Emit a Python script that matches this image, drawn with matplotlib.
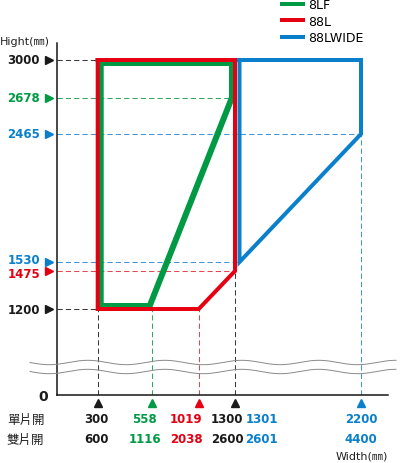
import numpy as np
import matplotlib
matplotlib.use('Agg')
import matplotlib.pyplot as plt
import matplotlib.transforms as mtransforms
from matplotlib.lines import Line2D
from matplotlib.patches import Polygon

# ---------------- data ----------------
series_names = ['8LF', '88L', '88LWIDE']
lf8_width = [300, 1300, 1300, 558, 300]
lf8_height = [3000, 3000, 2678, 1200, 1200]
l88_width = [300, 1300, 1300, 1019, 300]
l88_height = [3000, 3000, 1475, 1200, 1200]
wide_width = [1301, 2200, 2200, 1301]
wide_height = [3000, 3000, 2465, 1530]

height_ticks = [3000, 2678, 2465, 1530, 1475, 1200]
height_tick_series = ['k', '8LF', '88LWIDE', '88LWIDE', '88L', 'k']
height_guide_ends = [300, 1300, 2200, 1301, 1300, 300]

width_single = [300, 558, 1019, 1300, 1301, 2200]
width_double = [600, 1116, 2038, 2600, 2601, 4400]
width_tick_series = ['k', '8LF', '88L', 'k', '88LWIDE', '88LWIDE']
width_guides = [300, 558, 1019, 1300, 2200]
width_guide_tops = [1200, 1200, 1200, 1475, 2465]
width_guide_series = ['k', '8LF', '88L', 'k', '88LWIDE']
row_labels = ['單片開', '雙片開']

# ---------------- style / layout ----------------
W, H = 400, 464
COL = {'8LF': '#009a44', '88L': '#e60012', '88LWIDE': '#0a80cc', 'k': '#1a1a1a'}
DASH = {'8LF': '#33a866', '88L': '#e5474f', '88LWIDE': '#3f96d6', 'k': '#3a3a3a'}

# schematic (non-uniform) axis scales: value knots -> pixel positions
X_KNOTS = [0, 300, 558, 1019, 1300, 1301, 2200, 2396]
X_PIX = [57, 97.7, 151.7, 198.7, 235, 239.5, 361, 388]
Y_KNOTS = [0, 1200, 1475, 1530, 2465, 2678, 3000, 3144]
Y_PIX = [H - p for p in [396, 310, 272, 263, 135, 99, 61, 44]]

def fx(v):
    return np.interp(v, X_KNOTS, X_PIX)
def fx_inv(p):
    return np.interp(p, X_PIX, X_KNOTS)
def fy(v):
    return np.interp(v, Y_KNOTS, Y_PIX)
def fy_inv(p):
    return np.interp(p, Y_PIX, Y_KNOTS)

PX = 0.72  # points per pixel at dpi 100
NUM_FONT = dict(family='DejaVu Sans', fontweight='bold', fontsize=8.5)

fig = plt.figure(figsize=(W / 100, H / 100), dpi=100)
ax = fig.add_axes([57 / W, (H - 396) / H, (388 - 57) / W, (396 - 44) / H])
ax.set_xscale('function', functions=(fx, fx_inv))
ax.set_yscale('function', functions=(fy, fy_inv))
ax.set_xlim(0, 2396)
ax.set_ylim(0, 3144)
ax.set_xticks([])
ax.set_yticks([])
for s in ['top', 'right']:
    ax.spines[s].set_visible(False)
for s in ['left', 'bottom']:
    ax.spines[s].set_linewidth(1.5 * PX)
    ax.spines[s].set_color('#111111')

# ---------------- guides ----------------
for h, xe, key in zip(height_ticks, height_guide_ends, height_tick_series):
    ax.plot([0, xe], [h, h], color=DASH[key], lw=0.75, dashes=(5, 3), zorder=1)
for w, yt, key in zip(width_guides, width_guide_tops, width_guide_series):
    ax.plot([w, w], [0, yt], color=DASH[key], lw=0.75, dashes=(5, 3), zorder=1)

# ---------------- outlines ----------------
green_clip = Polygon(list(zip(lf8_width, lf8_height)), closed=True,
                     transform=ax.transData, fill=False, visible=False)
ax.add_patch(green_clip)
g, = ax.plot(lf8_width + lf8_width[:1], lf8_height + lf8_height[:1],
             color=COL['8LF'], lw=12 * PX, solid_joinstyle='miter', zorder=2)
g.set_clip_path(green_clip)
ax.plot(l88_width + l88_width[:1], l88_height + l88_height[:1],
        color=COL['88L'], lw=4 * PX, solid_joinstyle='miter', zorder=3)
ax.plot(wide_width + wide_width[:1], wide_height + wide_height[:1],
        color=COL['88LWIDE'], lw=4 * PX, solid_joinstyle='miter', zorder=3)

# ---------------- y labels & markers ----------------
ylabel_dy = [0, 0, 0, 2, -2, 0]
ymark = mtransforms.offset_copy(ax.transData, fig=fig, x=-8, y=0, units='dots')
for h, key, dy in zip(height_ticks, height_tick_series, ylabel_dy):
    ax.annotate(str(h), xy=(0, h), xycoords=('axes fraction', 'data'),
                xytext=(-17, dy), textcoords='offset pixels',
                ha='right', va='center', color=COL[key], **NUM_FONT)
    ax.plot([0], [h], marker='>', ms=7.5 * PX, color=COL[key],
            transform=ymark, clip_on=False, zorder=5)
ax.annotate('0', xy=(0, 0), xycoords='axes fraction', xytext=(-9, -1),
            textcoords='offset pixels', ha='right', va='center',
            color=COL['k'], family='DejaVu Sans', fontweight='bold', fontsize=10)

# ---------------- x labels & markers ----------------
label_dx = [-1.5, -7, -12.7, -8, 22, 0]
xmark = mtransforms.offset_copy(ax.transData, fig=fig, x=0, y=-8, units='dots')
for w, key in zip(width_guides, width_guide_series):
    ax.plot([w], [0], marker='^', ms=7.5 * PX, color=COL[key],
            transform=xmark, clip_on=False, zorder=5)
for w, d, key, dx in zip(width_single, width_double, width_tick_series, label_dx):
    ax.annotate(str(w), xy=(w, 0), xycoords=('data', 'axes fraction'),
                xytext=(dx, -24), textcoords='offset pixels',
                ha='center', va='center', color=COL[key], **NUM_FONT)
    ax.annotate(str(d), xy=(w, 0), xycoords=('data', 'axes fraction'),
                xytext=(dx, -44), textcoords='offset pixels',
                ha='center', va='center', color=COL[key], **NUM_FONT)
for i, lab in enumerate(row_labels):
    fig.text(7 / W, 1 - (420 + 20 * i) / H, lab, ha='left', va='center',
             family=['Noto Sans CJK TC', 'DejaVu Sans'], fontsize=9, color='#222222')

fig.text(0 / W, 1 - 42 / H, 'Hight(㎜)', ha='left', va='center',
         family=['DejaVu Sans', 'Noto Sans CJK JP'], fontsize=8, color='#222222')
fig.text(362 / W, 1 - 457 / H, 'Width(㎜)', ha='center', va='center',
         family=['DejaVu Sans', 'Noto Sans CJK JP'], fontsize=8, color='#222222')

# ---------------- axis break waves ----------------
xs = np.linspace(30, 396, 500)
for yc in (363.5, 372.5):
    ys = yc + 2.2 * np.sin(2 * np.pi * (xs - 30) / 77)
    fig.add_artist(Line2D(xs / W, 1 - ys / H, transform=fig.transFigure,
                          color='#8a8a8a', lw=0.7, zorder=6))

# ---------------- legend ----------------
handles = [Line2D([], [], color=COL[n], lw=4 * PX) for n in series_names]
ax.legend(handles, series_names, loc='upper left', bbox_to_anchor=(282 / W, 1 + 1 / H),
          bbox_transform=fig.transFigure, frameon=False, borderpad=0, borderaxespad=0,
          handlelength=1.7, handletextpad=0.4, labelspacing=0.3,
          prop={'family': 'DejaVu Sans', 'size': 9})

fig.savefig('out.png', dpi=100)
